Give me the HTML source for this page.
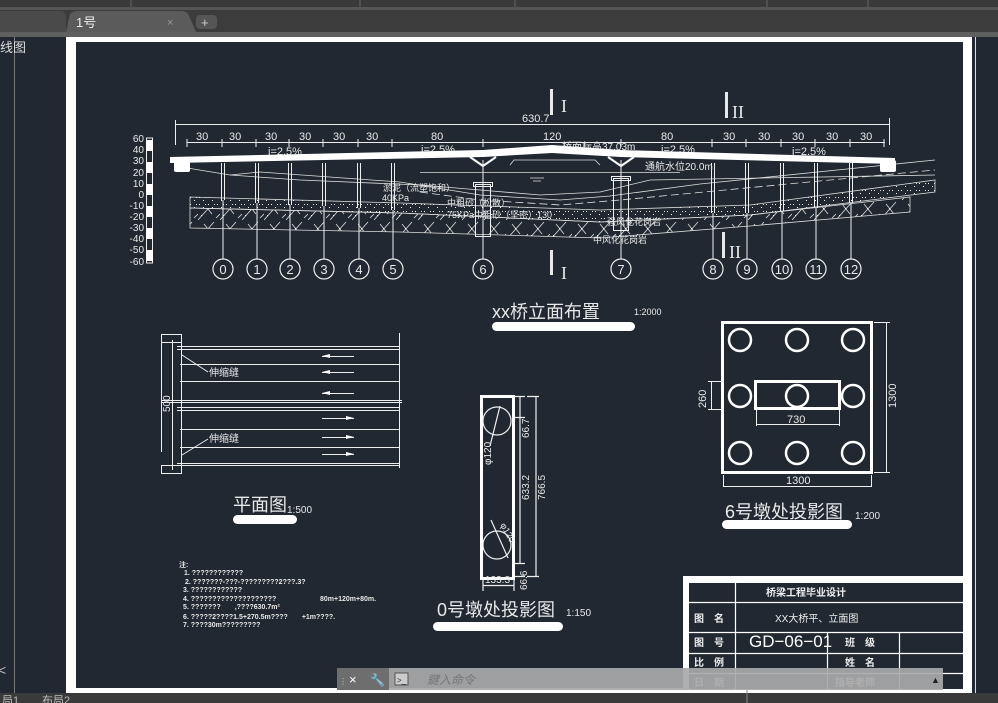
<!DOCTYPE html>
<html><head><meta charset="utf-8"><style>
html,body{margin:0;padding:0;background:#222831;}
svg{display:block;font-family:"Liberation Sans","Noto Sans CJK SC",sans-serif;}
</style></head><body>
<svg width="998" height="703" viewBox="0 0 998 703" xmlns="http://www.w3.org/2000/svg">
<defs>
<pattern id="dots" width="9" height="7" patternUnits="userSpaceOnUse">
<rect x="1" y="1" width="1" height="1" fill="#fff"/><rect x="5" y="4" width="1" height="1" fill="#fff"/><rect x="7" y="1" width="1" height="1" fill="#ddd"/>
</pattern>
<pattern id="hatch" width="22" height="20" patternUnits="userSpaceOnUse">
<path d="M0 20 L16 2 M6 4 L14 14 M18 18 L22 14" stroke="#ddd" stroke-width="0.8" fill="none"/>
<rect x="9" y="8" width="1" height="1" fill="#fff"/><rect x="3" y="15" width="1" height="1" fill="#fff"/>
</pattern>
</defs>
<!-- window chrome -->
<rect x="0" y="0" width="998" height="703" fill="#222831"/>
<rect x="0" y="0" width="998" height="7" fill="#3a3a3a"/>
<g stroke="#666" stroke-width="1"><line x1="131" y1="0" x2="131" y2="7"/><line x1="360" y1="0" x2="360" y2="7"/><line x1="515" y1="0" x2="515" y2="7"/><line x1="767" y1="0" x2="767" y2="7"/><line x1="868" y1="0" x2="868" y2="7"/></g>
<rect x="0" y="7" width="998" height="3" fill="#555"/>
<rect x="0" y="10" width="998" height="23" fill="#3c3c3c"/>
<path d="M0 11 L60 11 Q66 11 66 18 L66 32 L0 32Z" fill="#4a4a4a"/>
<path d="M66 32 L70 14 Q72 11 78 11 L182 11 Q187 11 189 16 L196 32Z" fill="#5b5b5b"/>
<text x="76" y="27" fill="#eee" font-size="13">1号</text>
<text x="167" y="26" fill="#999" font-size="11">×</text>
<rect x="196" y="15" width="21" height="14" rx="4" fill="#555"/>
<text x="201" y="27" fill="#ccc" font-size="13">+</text>
<rect x="0" y="32" width="998" height="5" fill="#5f5f5f"/>
<!-- left panel -->
<rect x="0" y="37" width="66" height="656" fill="#222831"/>
<line x1="14.5" y1="37" x2="14.5" y2="693" stroke="#777"/>
<text x="0" y="52" fill="#ddd" font-size="13">线图</text>
<text x="-2" y="675" fill="#bbb" font-size="14">&lt;</text>
<!-- paper -->
<rect x="66" y="37" width="906" height="656" fill="#fff"/>
<rect x="76" y="42" width="887" height="646" fill="#222831"/>
<rect x="972" y="37" width="26" height="656" fill="#222831"/>
<line x1="975.5" y1="37" x2="975.5" y2="693" stroke="#ddd"/>
<rect x="0" y="693" width="998" height="10" fill="#3a3a3a"/>
<text x="2" y="704" fill="#bbb" font-size="11">局1</text><text x="42" y="704" fill="#bbb" font-size="11">布局2</text>

<g fill="#e8e8e8" stroke="none" font-size="11">
<!-- dimension lines -->
<g stroke="#eee" stroke-width="1" fill="none">
<line x1="175" y1="124.5" x2="890" y2="124.5"/><line x1="175.5" y1="120" x2="175.5" y2="145"/><line x1="889.5" y1="118" x2="889.5" y2="145"/>
<line x1="187" y1="142.5" x2="885" y2="142.5"/>
<path d="M187 139v8M222 139v8M256 139v8M289 139v8M323 139v8M358 139v8M392 139v8M483 139v8M621 139v8M712 139v8M746 139v8M781 139v8M815 139v8M850 139v8M884 139v8"/>
</g>
<text x="522" y="122">630.7</text>
<text x="196" y="140">30</text><text x="229" y="140">30</text><text x="265" y="140">30</text><text x="299" y="140">30</text><text x="333" y="140">30</text><text x="366" y="140">30</text>
<text x="431" y="140">80</text><text x="543" y="140">120</text><text x="661" y="140">80</text>
<text x="723" y="140">30</text><text x="758" y="140">30</text><text x="792" y="140">30</text><text x="826" y="140">30</text><text x="860" y="140">30</text>
<text x="268" y="155">i=2.5%</text><text x="421" y="153">i=2.5%</text><text x="661" y="153">i=2.5%</text><text x="792" y="155">i=2.5%</text>
<text x="562" y="150" font-size="10">桥面标高37.03m</text>
<text x="645" y="170" font-size="10">通航水位20.0m</text>
<!-- section marks -->
<rect x="550" y="89" width="3" height="26"/><text x="561" y="112" font-family="Liberation Serif" font-size="18">I</text>
<rect x="550" y="250" width="3" height="25"/><text x="561" y="279" font-family="Liberation Serif" font-size="18">I</text>
<rect x="725" y="92" width="3" height="26"/><text x="732" y="118" font-family="Liberation Serif" font-size="18">II</text>
<rect x="722" y="232" width="3" height="26"/><text x="729" y="258" font-family="Liberation Serif" font-size="18">II</text>
<!-- scale bar -->
<g stroke="#eee" fill="none"><line x1="146.5" y1="138" x2="146.5" y2="263"/><rect x="146.5" y="138" width="6" height="125"/></g>
<g fill="#fff"><rect x="146" y="140" width="7" height="11"/><rect x="146" y="162" width="7" height="11"/><rect x="146" y="184" width="7" height="11"/><rect x="146" y="206" width="7" height="11"/><rect x="146" y="228" width="7" height="11"/><rect x="146" y="250" width="7" height="11"/></g>
<g font-size="10" text-anchor="end">
<text x="144" y="142">60</text><text x="144" y="153">40</text><text x="144" y="164">30</text><text x="144" y="176">20</text><text x="144" y="187">10</text><text x="144" y="198">0</text><text x="144" y="209">-10</text><text x="144" y="220">-20</text><text x="144" y="231">-30</text><text x="144" y="242">-40</text><text x="144" y="253">-50</text><text x="144" y="265">-60</text>
</g>
<!-- soil layers -->
<polygon points="190,197 400,203 600,210 750,205 935,180 935,192 750,215 600,222 400,213 190,208" fill="url(#dots)" stroke="#ddd" stroke-width="0.8"/>
<polygon points="190,208 400,213 600,222 750,215 910,197 910,212 750,226 600,238 400,232 190,228" fill="url(#hatch)" stroke="#ddd" stroke-width="0.8"/>
<g stroke="#ddd" fill="none" stroke-width="0.8">
<path d="M175 166 L230 175 L300 180 L420 185 L480 190 L540 195 L600 192 L650 180 L935 175"/>
<path d="M230 175 L260 172 L400 182 L480 195 L560 200 L610 196 L700 184 L935 160"/>
<path d="M420 192 L480 200 L560 205 L620 200 L935 170" stroke-dasharray="8 4"/>
<path d="M510 165 L514 160 L595 160 L600 165"/>
<line x1="420" y1="172.5" x2="680" y2="172.5"/>
<path d="M530 178h14M533 181h8"/>
</g>
<text x="383" y="191" font-size="9">淤泥（流塑饱和）</text><text x="382" y="201" font-size="9">40KPa</text>
<text x="447" y="206" font-size="9">中粗砂（松散）</text><text x="447" y="218" font-size="9">75KPa中粗砂（坚密）130</text>
<text x="607" y="225" font-size="9">强风化花岗岩</text><text x="593" y="243" font-size="9">中风化花岗岩</text>
<!-- deck -->
<polygon points="170,157 483,150 552,145 621,150 895,158 895,164 621,157 552,153 483,157 170,163" fill="#fff"/>
<path d="M470 157 L483 166 L496 157 M608 157 L621 166 L634 157" stroke="#fff" stroke-width="2" fill="none"/>
<rect x="174" y="160" width="16" height="12" rx="2" fill="#fff"/>
<rect x="880" y="160" width="16" height="12" rx="2" fill="#fff"/>
<!-- piers -->
<g stroke="#eee" stroke-width="1" fill="none">
<path d="M221.5 163v37M224.5 163v37M255.5 163v40M258.5 163v40M288.5 163v42M291.5 163v42M322.5 163v43M325.5 163v43M357.5 163v45M360.5 163v45M391.5 163v47M394.5 163v47"/>
<path d="M711.5 163v50M714.5 163v50M745.5 163v50M748.5 163v50M780.5 163v48M783.5 163v48M814.5 163v45M817.5 163v45M849.5 163v40M852.5 163v40"/>
<path d="M223 200V259M257 203V259M290 205V259M324 206V259M359 208V259M393 210V259M483 160V259M621 160V259M713 213V259M747 213V259M782 211V259M816 208V259M851 203V259"/>
<rect x="475.5" y="184.5" width="15" height="52"/><rect x="473.5" y="182.5" width="19" height="4"/>
<rect x="613.5" y="178.5" width="15" height="52"/><rect x="611.5" y="176.5" width="19" height="4"/>
</g>
<g stroke="#eee" stroke-width="1.2" fill="none">
<circle cx="223" cy="269" r="10"/><circle cx="257" cy="269" r="10"/><circle cx="290" cy="269" r="10"/><circle cx="324" cy="269" r="10"/><circle cx="359" cy="269" r="10"/><circle cx="393" cy="269" r="10"/><circle cx="483" cy="269" r="10"/><circle cx="621" cy="269" r="10"/><circle cx="713" cy="269" r="10"/><circle cx="747" cy="269" r="10"/><circle cx="782" cy="269" r="10"/><circle cx="816" cy="269" r="10"/><circle cx="851" cy="269" r="10"/>
</g>
<g font-size="13" text-anchor="middle">
<text x="223" y="274">0</text><text x="257" y="274">1</text><text x="290" y="274">2</text><text x="324" y="274">3</text><text x="359" y="274">4</text><text x="393" y="274">5</text><text x="483" y="274">6</text><text x="621" y="274">7</text><text x="713" y="274">8</text><text x="747" y="274">9</text><text x="782" y="274">10</text><text x="816" y="274">11</text><text x="851" y="274">12</text>
</g>
<!-- elevation title -->
<text x="492" y="318" font-size="18">xx桥立面布置</text>
<rect x="492" y="322" width="143" height="9" rx="4.5" fill="#fff"/>
<text x="634" y="315" font-size="9">1:2000</text>

<!-- plan view -->
<g stroke="#eee" stroke-width="1" fill="none">
<path d="M177 346.5H400M177 349.5H400M180 364.5H400M180 381.5H400M162 400.5H402M162 402.5H402M177 407.5H400M177 410.5H400M180 429.5H400M180 447.5H400M177 463.5H400M177 465.5H400"/>
<path d="M161.5 334v118M172.5 340v130M181.5 340v130M399.5 333v135"/>
<rect x="161.5" y="334.5" width="20" height="8"/><rect x="161.5" y="465.5" width="20" height="8"/>
<path d="M182 355L208 372M182 455L208 439"/>
<path d="M322 356.5h32M322 372.5h32M322 393.5h32M322 418.5h32M322 437.5h32M322 454.5h32"/>
</g>
<g fill="#fff"><path d="M322 356l8-2v4zM322 372l8-2v4zM322 393l8-2v4zM354 418l-8-2v4zM354 437l-8-2v4zM354 454l-8-2v4z"/></g>
<text x="209" y="376" font-size="10">伸缩缝</text><text x="209" y="442" font-size="10">伸缩缝</text>
<text x="170" y="412" font-size="10" transform="rotate(-90 170 412)">500</text>
<text x="233" y="511" font-size="18">平面图</text><text x="287" y="513" font-size="10">1:500</text>
<rect x="233" y="515" width="64" height="9" rx="4.5" fill="#fff"/>

<!-- notes -->
<g font-size="7" font-weight="bold">
<text x="179" y="567">注:</text>
<text x="184" y="575">1. ????????????</text>
<text x="185" y="584">2. ???????-???-?????????2???.3?</text>
<text x="183" y="592">3. ????????????</text>
<text x="183" y="601">4. ????????????????????</text><text x="320" y="601">80m+120m+80m.</text>
<text x="183" y="609">5. ???????　　,????630.7m²</text>
<text x="183" y="619">6. ?????2????1.5+270.5m????　　+1m????.</text>
<text x="183" y="627">7. ????30m?????????</text>
</g>

<!-- pier 0 -->
<rect x="481.5" y="396.5" width="32" height="182" fill="none" stroke="#fff" stroke-width="3"/>
<g stroke="#eee" fill="none" stroke-width="1.2">
<circle cx="497" cy="421" r="14"/><circle cx="497" cy="545" r="14"/>
<line x1="500" y1="406" x2="490" y2="446"/><line x1="491" y1="520" x2="508" y2="558"/>
<path d="M515 396.5h10M515 417.5h10M515 563.5h10M515 576.5h10M520 396v167M536 396v180M527 396.5h12M527 576.5h12M483 579v12M514 579v12M483 585.5h31"/>
</g>
<text x="491" y="465" font-size="10" transform="rotate(-90 491 465)">φ120</text>
<text x="500" y="525" font-size="9" transform="rotate(60 500 525)">φ120</text>
<text x="529" y="438" font-size="10" transform="rotate(-90 529 438)">66.7</text>
<text x="529" y="500" font-size="10" transform="rotate(-90 529 500)">633.2</text>
<text x="545" y="500" font-size="10" transform="rotate(-90 545 500)">766.5</text>
<text x="527" y="590" font-size="10" transform="rotate(-90 527 590)">66.6</text>
<text x="485" y="583" font-size="10">133.3</text>
<text x="437" y="616" font-size="18">0号墩处投影图</text><text x="566" y="616" font-size="10">1:150</text>
<rect x="433" y="622" width="130" height="9" rx="4.5" fill="#fff"/>

<!-- pier 6 -->
<rect x="722.5" y="322.5" width="149" height="150" fill="none" stroke="#fff" stroke-width="3"/>
<rect x="755.5" y="381.5" width="84" height="27" fill="none" stroke="#fff" stroke-width="3"/>
<g stroke="#fff" fill="none" stroke-width="2.5">
<circle cx="740" cy="340" r="11"/><circle cx="797" cy="340" r="11"/><circle cx="853" cy="340" r="11"/>
<circle cx="740" cy="396" r="11"/><circle cx="797" cy="396" r="11"/><circle cx="853" cy="396" r="11"/>
<circle cx="740" cy="453" r="11"/><circle cx="797" cy="453" r="11"/><circle cx="853" cy="453" r="11"/>
</g>
<g stroke="#eee" fill="none">
<path d="M874 322.5h16M874 472.5h16M886.5 322v151M723.5 475v12M871.5 475v12M723 486.5h149M756.5 410v16M839.5 410v16M756 424.5h84M708 381.5h14M708 409.5h14M711.5 381v29"/>
</g>
<text x="896" y="408" font-size="11" transform="rotate(-90 896 408)">1300</text>
<text x="706" y="408" font-size="11" transform="rotate(-90 706 408)">260</text>
<text x="787" y="423" font-size="11">730</text>
<text x="786" y="484" font-size="11">1300</text>
<text x="725" y="518" font-size="18">6号墩处投影图</text><text x="855" y="519" font-size="10">1:200</text>
<rect x="722" y="520" width="130" height="9" rx="4.5" fill="#fff"/>
</g>

<!-- title block -->
<rect x="683" y="576" width="280" height="115" fill="#fff"/>
<rect x="689" y="583" width="274" height="106" fill="#222831"/>
<g stroke="#fff" stroke-width="1.2" fill="none">
<path d="M689 602.5H963M689 632.5H963M689 653.5H963M689 673.5H963M735.5 583V689M827.5 632V689M899.5 632V689"/>
</g>
<g fill="#eee" font-size="10" font-weight="bold">
<text x="766" y="596">桥梁工程毕业设计</text>
<text x="694" y="622">图　名</text><text x="775" y="622" font-weight="normal">XX大桥平、立面图</text>
<text x="694" y="646">图　号</text><text x="845" y="646">班　级</text>
<text x="694" y="666">比　例</text><text x="845" y="666">姓　名</text>
<text x="694" y="686">日　期</text><text x="835" y="686">指导老师</text>
</g>
<text x="749" y="647" fill="#fff" font-size="17">GD−06−01</text>
<!-- command line -->
<rect x="337" y="668" width="52" height="22" fill="#6e6e6e"/>
<rect x="389" y="668" width="554" height="22" fill="#a9a9a9" fill-opacity="0.92"/>
<text x="339" y="684" fill="#ccc" font-size="8">⋮</text>
<text x="349" y="684" fill="#fff" font-size="13">×</text>
<text x="370" y="684" fill="#fff" font-size="12">🔧</text>
<rect x="395" y="673" width="13" height="12" fill="#ccc" stroke="#555"/>
<text x="397" y="683" fill="#333" font-size="8">&gt;_</text>
<text x="427" y="684" fill="#777" font-size="12" font-style="italic">鍵入命令</text>
<text x="931" y="683" fill="#222" font-size="9">▲</text>
<line x1="747" y1="690" x2="747" y2="703" stroke="#888"/>
</svg>
</body></html>
